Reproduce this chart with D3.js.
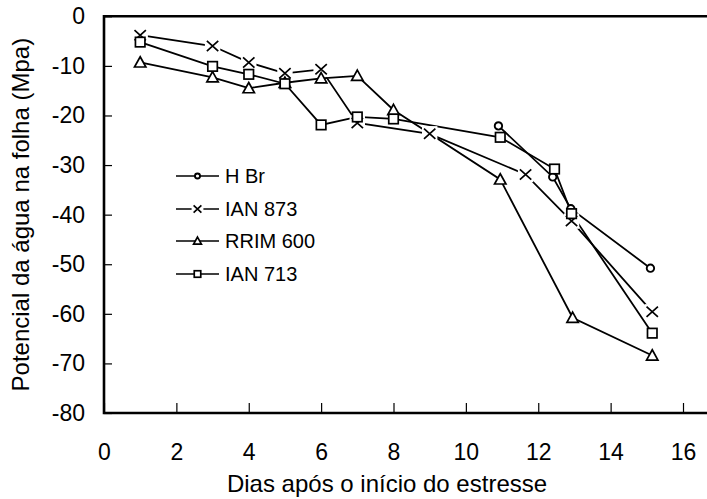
<!DOCTYPE html>
<html>
<head>
<meta charset="utf-8">
<script src="https://cdn.jsdelivr.net/npm/d3@7"></script>
<style>
  body { margin: 0; background: #fff; }
  svg text { font-family: "Liberation Sans", Arial, sans-serif; fill: #000; }
</style>
</head>
<body>
<svg id="chart" width="707" height="499"></svg>
<script>
// Leaf water potential (MPa) over days after the start of stress, four clones
const seriesNames = ["H Br", "IAN 873", "RRIM 600", "IAN 713"];
const markerTypes = ["circle", "cross", "triangle", "square"];

const hbrDays = [10.9, 12.4, 12.9, 15.1];
const hbrValues = [-22.1, -32.4, -38.8, -50.8];

const ian873Days = [1, 3, 4, 5, 6, 7, 9, 11.65, 12.92, 15.15];
const ian873Values = [-3.8, -6.0, -9.3, -11.5, -10.7, -21.5, -23.7, -31.9, -41.3, -59.6];

const rrim600Days = [1, 3, 4, 5, 6, 7, 8, 10.95, 12.95, 15.15];
const rrim600Values = [-9.3, -12.3, -14.5, -13.4, -12.5, -12.0, -18.9, -32.9, -60.8, -68.4];

const ian713Days = [1, 3, 4, 5, 6, 7, 8, 10.95, 12.45, 12.92, 15.15];
const ian713Values = [-5.2, -10.1, -11.7, -13.6, -21.9, -20.3, -20.7, -24.4, -30.8, -39.8, -63.9];

const xTicks = [0, 2, 4, 6, 8, 10, 12, 14, 16];
const yTicks = [0, -10, -20, -30, -40, -50, -60, -70, -80];

const xTitle = "Dias após o início do estresse";
const yTitle = "Potencial da água na folha (Mpa)";

const series = [
  { name: seriesNames[0], marker: markerTypes[0], days: hbrDays, values: hbrValues },
  { name: seriesNames[1], marker: markerTypes[1], days: ian873Days, values: ian873Values },
  { name: seriesNames[2], marker: markerTypes[2], days: rrim600Days, values: rrim600Values },
  { name: seriesNames[3], marker: markerTypes[3], days: ian713Days, values: ian713Values }
].map(s => ({ ...s, points: s.days.map((d, i) => ({ x: d, y: s.values[i] })) }));

const W = 707, H = 499;
const mLeft = 104, mTop = 16.3, mBottom = 413, plotRight = 683;

const x = d3.scaleLinear().domain([0, 16]).range([mLeft, plotRight]);
const y = d3.scaleLinear().domain([-80, 0]).range([mBottom, mTop]);

const svg = d3.select("#chart");
const plainNumber = d => String(d);

// axes with inward ticks
const yAxis = d3.axisLeft(y).tickValues(yTicks).tickSizeInner(-8).tickSizeOuter(0).tickPadding(19)
  .tickFormat(plainNumber);
const gy = svg.append("g").attr("transform", `translate(${mLeft},0)`).call(yAxis);
gy.select(".domain").remove();
gy.selectAll(".tick line").attr("stroke", "#000").attr("stroke-width", 1.2);
gy.selectAll(".tick text").attr("font-size", 23).style("font-family", "Liberation Sans, Arial, sans-serif");

const xAxis = d3.axisBottom(x).tickValues(xTicks).tickSizeInner(-10).tickSizeOuter(0).tickPadding(31)
  .tickFormat(plainNumber);
const gx = svg.append("g").attr("transform", `translate(0,${mBottom})`).call(xAxis);
gx.select(".domain").remove();
gx.selectAll(".tick line").attr("stroke", "#000").attr("stroke-width", 1.2);
gx.selectAll(".tick text").attr("font-size", 23).style("font-family", "Liberation Sans, Arial, sans-serif");

// frame: left axis, top border and baseline run to the right edge
svg.append("path")
  .attr("d", `M${W},${y(0)}H${x(0)}V${y(-80)}H${W}`)
  .attr("fill", "none").attr("stroke", "#000").attr("stroke-width", 2.6);

// axis titles
svg.append("text")
  .attr("x", 387).attr("y", 492)
  .attr("text-anchor", "middle").attr("font-size", 24).text(xTitle);
svg.append("text")
  .attr("transform", `translate(29,${(y(0) + y(-80)) / 2}) rotate(-90)`)
  .attr("text-anchor", "middle").attr("font-size", 24).text(yTitle);

// series lines
const line = d3.line().x(d => x(d.x)).y(d => y(d.y));
svg.append("g").selectAll("path").data(series).join("path")
  .attr("d", s => line(s.points))
  .attr("fill", "none").attr("stroke", "#000").attr("stroke-width", 1.8);

// marker drawing
function drawMarker(g, type, size) {
  const h = size / 2;
  if (type === "circle") {
    g.append("circle").attr("r", h * 0.78).attr("fill", "#fff").attr("stroke", "#000").attr("stroke-width", 1.9);
  } else if (type === "square") {
    g.append("rect").attr("x", -h).attr("y", -h).attr("width", size).attr("height", size)
      .attr("fill", "#fff").attr("stroke", "#000").attr("stroke-width", 1.7);
  } else if (type === "triangle") {
    const t = h * 1.2;
    g.append("path").attr("d", `M0,${-t}L${t},${t * 0.8}L${-t},${t * 0.8}Z`)
      .attr("fill", "#fff").attr("stroke", "#000").attr("stroke-width", 1.7);
  } else if (type === "cross") {
    const c = h * 1.2;
    g.append("rect").attr("x", -c - 2).attr("y", -c - 2).attr("width", 2 * c + 4).attr("height", 2 * c + 4)
      .attr("fill", "#fff");
    g.append("path").attr("d", `M${-c},${-c * 0.9}L${c},${c * 0.9}M${-c},${c * 0.9}L${c},${-c * 0.9}`)
      .attr("fill", "none").attr("stroke", "#000").attr("stroke-width", 1.7);
  }
}

series.forEach(s => {
  svg.append("g").selectAll("g").data(s.points).join("g")
    .attr("transform", d => `translate(${x(d.x)},${y(d.y)})`)
    .each(function () { drawMarker(d3.select(this), s.marker, 9.5); });
});

// legend
const legendRows = [176, 209, 241, 274];
const legend = svg.append("g");
series.forEach((s, i) => {
  const g = legend.append("g").attr("transform", `translate(176,${legendRows[i]})`);
  g.append("line").attr("x1", 0).attr("x2", 43).attr("y1", 0).attr("y2", 0)
    .attr("stroke", "#000").attr("stroke-width", 1.7);
  const m = g.append("g").attr("transform", "translate(21.5,0)");
  drawMarker(m, s.marker, 6.5);
  g.append("text").attr("x", 49).attr("y", 0).attr("dy", "0.35em")
    .attr("font-size", 20).text(s.name);
});
</script>
</body>
</html>
